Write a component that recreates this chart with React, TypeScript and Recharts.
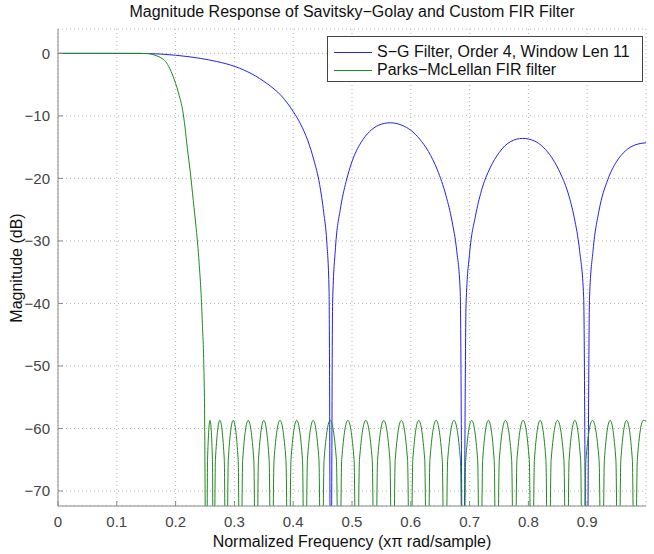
import { LineChart, Line, XAxis, YAxis, CartesianGrid } from "recharts";

// frequency (x pi rad/sample) and magnitude (dB)
const sgPoints: [number, number][] = [
  [0, 0], [0.1, 0], [0.15, -0.02], [0.2, -0.3], [0.242, -0.8], [0.27, -1.3],
  [0.301, -2.1], [0.33, -3.3], [0.355, -4.8], [0.38, -6.8], [0.4, -9.3],
  [0.412, -11.2], [0.425, -14], [0.435, -17], [0.445, -21], [0.452, -25.5],
  [0.457, -30], [0.461, -38], [0.464, -100],
  [0.467, -40], [0.472, -31], [0.48, -25], [0.49, -20.5], [0.5, -17.3],
  [0.515, -14.3], [0.53, -12.5], [0.545, -11.5], [0.565, -11.1], [0.585, -11.5],
  [0.6, -12.3], [0.615, -13.7], [0.63, -15.7], [0.645, -18.6], [0.66, -22.8],
  [0.67, -26.8], [0.678, -31.5], [0.684, -38], [0.689, -100],
  [0.694, -40], [0.7, -32], [0.71, -26], [0.72, -22], [0.735, -18.3],
  [0.75, -15.9], [0.77, -14.1], [0.79, -13.6], [0.81, -14], [0.825, -15],
  [0.84, -16.7], [0.855, -19.3], [0.868, -22.5], [0.878, -26.3], [0.887, -31.5],
  [0.894, -39], [0.899, -100],
  [0.904, -39], [0.91, -31.5], [0.92, -25.2], [0.935, -20.2], [0.95, -17.3],
  [0.965, -15.6], [0.98, -14.7], [1, -14.3],
];

const pmPoints: [number, number][] = [
  [0, 0], [0.05, 0], [0.1, 0], [0.14, 0], [0.155, -0.05], [0.165, -0.3],
  [0.175, -0.7], [0.183, -1.3], [0.19, -2.4], [0.2, -4.8], [0.206, -6.7],
  [0.212, -9.1], [0.216, -11.8], [0.22, -15.2], [0.225, -19], [0.23, -23.5],
  [0.235, -28], [0.24, -33.5], [0.245, -42], [0.249, -55], [0.2525, -100],
  [0.2543, -65], [0.2585, -58.7], [0.2627, -65], [0.2645, -100],
  [0.2677, -65], [0.2753, -58.7], [0.2828, -65], [0.286, -100],
  [0.2896, -65], [0.298, -58.7], [0.3064, -65], [0.31, -100],
  [0.3141, -65], [0.3235, -58.7], [0.333, -65], [0.337, -100],
  [0.3409, -65], [0.35, -58.7], [0.3591, -65], [0.363, -100],
  [0.3674, -65], [0.3775, -58.7], [0.3877, -65], [0.392, -100],
  [0.3962, -65], [0.406, -58.7], [0.4158, -65], [0.42, -100],
  [0.4242, -65], [0.434, -58.7], [0.4438, -65], [0.448, -100],
  [0.4525, -65], [0.463, -58.7], [0.4735, -65], [0.478, -100],
  [0.4825, -65], [0.493, -58.7], [0.5035, -65], [0.508, -100],
  [0.5127, -65], [0.5235, -58.7], [0.5344, -65], [0.539, -100],
  [0.5435, -65], [0.554, -58.7], [0.5645, -65], [0.569, -100],
  [0.5735, -65], [0.584, -58.7], [0.5945, -65], [0.599, -100],
  [0.6034, -65], [0.6135, -58.7], [0.6237, -65], [0.628, -100],
  [0.6325, -65], [0.643, -58.7], [0.6535, -65], [0.658, -100],
  [0.6627, -65], [0.6735, -58.7], [0.6844, -65], [0.689, -100],
  [0.6934, -65], [0.7035, -58.7], [0.7137, -65], [0.718, -100],
  [0.7222, -65], [0.732, -58.7], [0.7418, -65], [0.746, -100],
  [0.7505, -65], [0.761, -58.7], [0.7715, -65], [0.776, -100],
  [0.7805, -65], [0.791, -58.7], [0.8015, -65], [0.806, -100],
  [0.8102, -65], [0.82, -58.7], [0.8298, -65], [0.834, -100],
  [0.8387, -65], [0.8495, -58.7], [0.8604, -65], [0.865, -100],
  [0.8692, -65], [0.879, -58.7], [0.8888, -65], [0.893, -100],
  [0.8978, -65], [0.909, -58.7], [0.9202, -65], [0.925, -100],
  [0.9292, -65], [0.939, -58.7], [0.9488, -65], [0.953, -100],
  [0.9572, -65], [0.967, -58.7], [0.9768, -65], [0.981, -100],
  [0.9852, -65], [0.9955, -58.7], [1, -58.8],
];

const xTicks = [0, 0.1, 0.2, 0.3, 0.4, 0.5, 0.6, 0.7, 0.8, 0.9];
const yTicks = [-70, -60, -50, -40, -30, -20, -10, 0];
const yDomain: [number, number] = [-72.4, 3.9];

const seriesNames = ["S\u2212G Filter, Order 4, Window Len 11", "Parks\u2212McLellan FIR filter"];
const seriesColors = ["#2020f0", "#1f8a1f"];

const sgData = sgPoints.map(([f, db]) => ({ f, db }));
const pmData = pmPoints.map(([f, db]) => ({ f, db }));

const font = "'Liberation Sans', Arial, Helvetica, sans-serif";
const axisColor = "#8a8a8a";

function LegendBox() {
  return (
    <div
      style={{
        position: "absolute",
        left: 327,
        top: 36,
        border: "1px solid #444",
        background: "#fff",
        width: 314,
        height: 38,
        boxSizing: "content-box",
        fontSize: 16,
        color: "#111",
        paddingTop: 6,
      }}
    >
      {seriesNames.map((name, i) => (
        <div key={name} style={{ display: "flex", alignItems: "center", height: 18, lineHeight: "18px" }}>
          <div style={{ width: 38, height: 1, background: seriesColors[i], marginLeft: 6, marginRight: 5 }} />
          <span>{name}</span>
        </div>
      ))}
    </div>
  );
}

export default function App() {
  return (
    <div
      style={{
        position: "absolute",
        left: 0,
        top: 0,
        width: 654,
        height: 554,
        background: "#fff",
        fontFamily: font,
        overflow: "hidden",
      }}
    >
      <div
        style={{
          position: "absolute",
          left: 58,
          width: 588,
          top: 3,
          textAlign: "center",
          fontSize: 16,
          lineHeight: "18px",
          color: "#111",
        }}
      >
        Magnitude Response of Savitsky{"\u2212"}Golay and Custom FIR Filter
      </div>
      <div
        style={{
          position: "absolute",
          left: 58,
          width: 588,
          top: 533,
          textAlign: "center",
          fontSize: 16,
          lineHeight: "17px",
          color: "#111",
        }}
      >
        Normalized Frequency (x{"\u03c0"} rad/sample)
      </div>
      <div
        style={{
          position: "absolute",
          left: 17,
          top: 268,
          transform: "translate(-50%, -50%) rotate(-90deg)",
          whiteSpace: "nowrap",
          fontSize: 16,
          color: "#111",
        }}
      >
        Magnitude (dB)
      </div>

      <LineChart width={654} height={554} margin={{ top: 29, right: 8, left: 0, bottom: 0 }} style={{ position: "absolute", left: 0, top: 0 }}>
        <CartesianGrid stroke="#b5b5b5" strokeDasharray="1 3" />
        <XAxis
          dataKey="f"
          type="number"
          domain={[0, 1]}
          ticks={xTicks}
          interval={0}
          allowDataOverflow
          height={48}
          tickSize={-5}
          tickMargin={15}
          stroke={axisColor}
          tick={{ fill: "#444", fontSize: 15, fontFamily: font }}
        />
        <XAxis
          xAxisId="top"
          orientation="top"
          type="number"
          domain={[0, 1]}
          ticks={xTicks}
          interval={0}
          allowDataOverflow
          height={0}
          tickSize={-5}
          tickFormatter={() => ""}
          stroke={axisColor}
        />
        <YAxis
          type="number"
          domain={yDomain}
          ticks={yTicks}
          interval={0}
          allowDataOverflow
          width={58}
          tickSize={-5}
          tickMargin={13}
          stroke={axisColor}
          tick={{ fill: "#444", fontSize: 15, fontFamily: font }}
          tickFormatter={(v: number) => (v < 0 ? "\u2212" + Math.abs(v) : String(v))}
        />
        <YAxis
          yAxisId="right"
          orientation="right"
          type="number"
          domain={yDomain}
          ticks={yTicks}
          interval={0}
          allowDataOverflow
          width={0}
          tickSize={-5}
          tickFormatter={() => ""}
          stroke={axisColor}
        />
        <Line
          data={sgData}
          dataKey="db"
          name={seriesNames[0]}
          type="monotone"
          stroke={seriesColors[0]}
          strokeWidth={1}
          dot={false}
          isAnimationActive={false}
        />
        <Line
          data={pmData}
          dataKey="db"
          name={seriesNames[1]}
          type="monotone"
          stroke={seriesColors[1]}
          strokeWidth={1}
          dot={false}
          isAnimationActive={false}
        />
      </LineChart>
      <LegendBox />
    </div>
  );
}
